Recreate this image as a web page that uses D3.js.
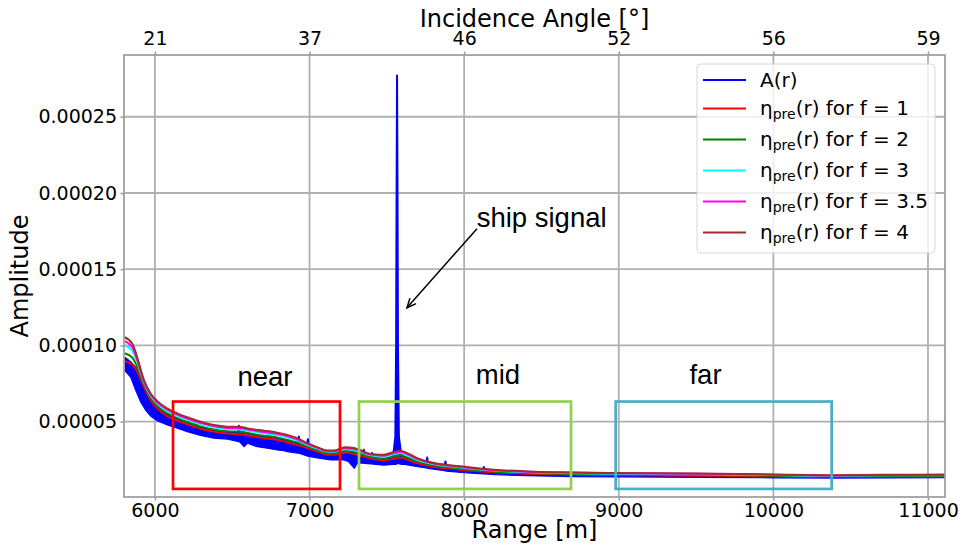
<!DOCTYPE html>
<html><head><meta charset="utf-8">
<script src="https://cdn.jsdelivr.net/npm/d3@7"></script>
<style>
html,body{margin:0;padding:0;background:#fff;}
svg{display:block;}
</style></head>
<body>
<svg id="chart" width="961" height="549"></svg>
<script>
// ---------- data (amplitude values in units of 1e-6) ----------
const xTicks = [6000, 7000, 8000, 9000, 10000, 11000];
const angleLabels = ["21", "37", "46", "52", "56", "59"];
const yTicks = [5e-5, 1e-4, 1.5e-4, 2e-4, 2.5e-4];

const rangeEta = [5804,5854,5875,5897,5929,5972,6015,6080,6145,6209,6295,6381,6468,6554,6619,6705,6791,6877,6920,6985,7050,7114,7157,7230,7286,7330,7373,7430,7480,7545,7588,7632,7696,7761,7976,8191,8407,8623,8946,9500,10000,10380,10700,11110];
const etaF1  = [89.6,87.4,84.8,80.4,72.8,64.1,58.7,53.7,50.7,48.3,45.4,43.5,42.2,41.8,40.7,39.2,38.1,35.9,34.8,32.7,30.4,28.3,28.3,29.6,28.9,27.6,26.5,25.2,24.6,25.7,26.5,25.0,22.9,21.3,18.5,16.8,15.9,15.3,15.0,14.6,14.2,13.8,14.0,14.1];
const etaF2  = [94.9,92.0,88.4,83.0,74.3,65.6,60.3,55.4,52.3,49.8,46.9,44.9,43.7,43.4,42.2,40.8,39.7,37.5,36.3,33.8,31.4,29.2,29.2,30.8,30.2,28.8,27.5,26.3,25.8,27.2,28.0,26.5,24.0,22.2,19.2,17.4,16.4,15.8,15.5,15.1,14.6,14.2,14.4,14.5];
const etaF3  = [100.1,96.5,92.0,85.5,75.7,67.0,61.9,57.0,53.9,51.4,48.5,46.4,45.2,44.9,43.7,42.5,41.2,39.1,37.7,34.8,32.3,30.2,30.2,32.0,31.4,30.1,28.4,27.4,27.1,28.6,29.4,27.9,25.0,23.0,20.0,17.9,16.9,16.3,15.9,15.5,15.0,14.5,14.8,14.9];
const etaF35 = [102.8,98.8,93.8,86.8,76.5,67.8,62.7,57.9,54.7,52.1,49.2,47.1,45.9,45.7,44.5,43.3,42.0,39.9,38.5,35.4,32.8,30.6,30.6,32.6,32.1,30.7,28.9,28.0,27.7,29.4,30.2,28.7,25.6,23.5,20.3,18.2,17.2,16.6,16.2,15.8,15.2,14.7,15.0,15.1];
const etaF4  = [105.4,101.1,95.6,88.1,77.2,68.5,63.5,58.7,55.5,52.9,50.0,47.8,46.7,46.5,45.2,44.1,42.8,40.7,39.2,35.9,33.3,31.1,31.1,33.2,32.7,31.3,29.4,28.5,28.3,30.1,30.9,29.4,26.1,23.9,20.7,18.5,17.4,16.8,16.4,16.0,15.4,14.9,15.2,15.3];

// A(r): lower and upper envelope of the noisy amplitude trace
const rangeA = [5804,5843,5875,5908,5940,5972,6015,6080,6145,6209,6295,6381,6470,6535,6543,6551,6577,6600,6619,6662,6727,6791,6834,6856,6925,6931,6937,6983,6989,6995,7050,7136,7222,7250,7290,7310,7345,7351,7357,7373,7400,7405,7410,7430,7480,7540,7555,7560,7563,7566,7569,7572,7578,7594,7615,7700,7755,7761,7767,7873,7879,7885,8000,8121,8127,8133,8200,8400,8700,9000,9500,10000,10400,11110];
const ampLow  = [83.7,79.3,70.7,63.0,57.6,53.7,50.7,47.8,45.7,43.5,41.0,39.2,38.6,37.0,36.9,36.5,33.6,36.0,35.0,33.6,32.6,31.5,31.0,30.4,29.3,29.3,29.2,27.5,27.4,27.3,26.3,24.9,24.9,24.0,19.5,23.0,22.8,22.8,22.7,22.5,22.3,22.3,22.2,22.0,21.5,22.0,22.0,22.0,22.3,22.5,22.5,22.5,22.5,22.0,22.0,20.5,19.6,19.5,19.4,17.8,17.7,17.6,16.5,15.8,15.8,15.8,15.3,14.6,14.0,13.8,13.5,13.2,13.0,13.3];
const ampHigh = [92.0,89.0,85.5,79.0,71.0,65.0,59.5,54.5,51.5,49.0,46.2,44.3,43.0,42.6,47.4,42.4,41.9,41.7,41.5,40.8,40.0,38.6,38.0,37.5,35.6,40.2,35.2,33.5,38.5,33.2,31.2,29.2,30.2,30.4,29.7,29.0,28.2,31.6,28.0,27.3,26.5,29.4,26.3,26.0,25.4,27.0,40,100,200,277,200,100,40,27.5,26.5,23.7,22.2,26.5,22.0,20.6,23.9,20.5,19.3,17.9,20.3,17.8,17.4,16.5,15.9,15.6,15.2,14.8,14.4,14.7];

const seriesNames = ["A(r)", "η_pre(r) for f = 1", "η_pre(r) for f = 2", "η_pre(r) for f = 3", "η_pre(r) for f = 3.5", "η_pre(r) for f = 4"];
const seriesColors = ["#0000ff", "#ff0000", "#008000", "#00ffff", "#ff00ff", "#a52a2a"];

// annotation regions (range [m], amplitude in 1e-6)
const regionNames  = ["near", "mid", "far"];
const regionStart  = [6117, 7320, 8980];
const regionEnd    = [7197, 8691, 10377];
const regionColors = ["#ff0000", "#92d050", "#4bacc6"];
const regionBottom = 5.9, regionTop = 63.2;
const regionLabelX = [6712, 8219, 9561];
const regionLabelY = [73.5, 74.8, 74.8];
const shipLabel = "ship signal";
const shipLabelPos = [8081, 178];
const shipArrowFrom = [8083, 176.6], shipArrowTo = [7630, 124.7];

// ---------- drawing ----------
const U = 1e-6;
const svg = d3.select("#chart");
const L = 124, R = 945, T = 55, B = 497;
const x = d3.scaleLinear().domain([5800, 11110]).range([L, R]);
const y = d3.scaleLinear().domain([0.6e-6, 290.5e-6]).range([B, T]);
const FONT = "'DejaVu Sans', sans-serif";
const ARIAL = "'Liberation Sans', Arial, sans-serif";
const gridColor = "#b0b0b0", spineColor = "#a0a0a0";

svg.append("rect").attr("width", 961).attr("height", 549).attr("fill", "#fff");

svg.append("defs").append("clipPath").attr("id", "clip")
  .append("rect").attr("x", L).attr("y", T).attr("width", R - L).attr("height", B - T);

// grid
const grid = svg.append("g");
grid.selectAll(".vg").data(xTicks).join("line")
  .attr("x1", d => x(d)).attr("x2", d => x(d)).attr("y1", T).attr("y2", B)
  .attr("stroke", gridColor).attr("stroke-width", 1.8);
grid.selectAll(".hg").data(yTicks).join("line")
  .attr("x1", L).attr("x2", R).attr("y1", d => y(d)).attr("y2", d => y(d))
  .attr("stroke", gridColor).attr("stroke-width", 1.8);

// axes
function styleAxis(g) {
  g.select(".domain").remove();
  g.selectAll(".tick line").attr("stroke", spineColor).attr("stroke-width", 1.6);
  g.selectAll(".tick text").attr("font-family", FONT).attr("font-size", 19).attr("fill", "#000");
}
svg.append("g").attr("transform", `translate(0,${B})`)
  .call(d3.axisBottom(x).tickValues(xTicks).tickFormat(d3.format("d")).tickSize(3.5).tickPadding(3.5))
  .call(styleAxis);
svg.append("g").attr("transform", `translate(0,${T})`)
  .call(d3.axisTop(x).tickValues(xTicks).tickFormat((d, i) => angleLabels[i]).tickSize(3.5).tickPadding(6.5))
  .call(styleAxis);
svg.append("g").attr("transform", `translate(${L},0)`)
  .call(d3.axisLeft(y).tickValues(yTicks).tickFormat(d3.format(".5f")).tickSize(3.5).tickPadding(3.5))
  .call(styleAxis);

// data
const plot = svg.append("g").attr("clip-path", "url(#clip)");
const aData = rangeA.map((r, i) => ({r, lo: ampLow[i] * U, hi: ampHigh[i] * U}));
plot.append("path").datum(aData)
  .attr("d", d3.area().x(d => x(d.r)).y0(d => y(d.lo)).y1(d => y(d.hi)))
  .attr("fill", "#0000ff");
plot.append("path").datum(aData)
  .attr("d", d3.line().x(d => x(d.r)).y(d => y(d.hi)))
  .attr("fill", "none").attr("stroke", "#0000ff").attr("stroke-width", 2).attr("stroke-linejoin", "round");
plot.append("path").datum(aData)
  .attr("d", d3.line().x(d => x(d.r)).y(d => y(d.lo)))
  .attr("fill", "none").attr("stroke", "#0000ff").attr("stroke-width", 1.2);

const etaSeries = [etaF1, etaF2, etaF3, etaF35, etaF4];
const etaLine = d3.line().curve(d3.curveMonotoneX).x(d => x(d[0])).y(d => y(d[1] * U));
etaSeries.forEach((vals, k) => {
  plot.append("path").datum(rangeEta.map((r, i) => [r, vals[i]]))
    .attr("d", etaLine).attr("fill", "none")
    .attr("stroke", seriesColors[k + 1]).attr("stroke-width", 2).attr("stroke-linejoin", "round");
});

// frame
svg.append("rect").attr("x", L).attr("y", T).attr("width", R - L).attr("height", B - T)
  .attr("fill", "none").attr("stroke", spineColor).attr("stroke-width", 1.8);

// axis titles
svg.append("text").attr("x", (L + R) / 2).attr("y", 538).attr("text-anchor", "middle")
  .attr("font-family", FONT).attr("font-size", 24).text("Range [m]");
svg.append("text").attr("x", (L + R) / 2).attr("y", 27).attr("text-anchor", "middle")
  .attr("font-family", FONT).attr("font-size", 24).text("Incidence Angle [°]");
svg.append("text").attr("transform", `translate(28,${(T + B) / 2}) rotate(-90)`).attr("text-anchor", "middle")
  .attr("font-family", FONT).attr("font-size", 24).text("Amplitude");

// legend
const lg = svg.append("g");
lg.append("rect").attr("x", 697).attr("y", 64).attr("width", 238).attr("height", 189)
  .attr("rx", 4).attr("fill", "#fff").attr("fill-opacity", 0.8)
  .attr("stroke", "#d6d6d6").attr("stroke-width", 1);
seriesNames.forEach((name, i) => {
  const ly = i === 0 ? 80 : 108.5 + (i - 1) * 31;
  lg.append("line").attr("x1", 703).attr("x2", 746).attr("y1", ly).attr("y2", ly)
    .attr("stroke", seriesColors[i]).attr("stroke-width", 2);
  const t = lg.append("text").attr("x", 760).attr("y", ly + (i === 0 ? 7 : 6.5))
    .attr("font-family", FONT).attr("font-size", 20).attr("fill", "#000");
  if (name.includes("_")) {
    const [head, rest] = name.split("_");
    const sub = rest.slice(0, 3), tail = rest.slice(3);
    t.append("tspan").text(head);
    t.append("tspan").attr("font-size", 14).attr("dy", 4).text(sub);
    t.append("tspan").attr("dy", -4).text(tail);
  } else {
    t.text(name);
  }
});

// annotation boxes
const ann = svg.append("g");
regionNames.forEach((n, i) => {
  ann.append("rect")
    .attr("x", x(regionStart[i])).attr("y", y(regionTop * U))
    .attr("width", x(regionEnd[i]) - x(regionStart[i]))
    .attr("height", y(regionBottom * U) - y(regionTop * U))
    .attr("fill", "none").attr("stroke", regionColors[i]).attr("stroke-width", 2.7);
  ann.append("text").attr("x", x(regionLabelX[i])).attr("y", y(regionLabelY[i] * U))
    .attr("text-anchor", "middle")
    .attr("font-family", ARIAL).attr("font-size", 27.5).text(n);
});
ann.append("text").attr("x", x(shipLabelPos[0])).attr("y", y(shipLabelPos[1] * U))
  .attr("font-family", ARIAL).attr("font-size", 27.5).text(shipLabel);

// arrow
const ax1 = x(shipArrowFrom[0]), ay1 = y(shipArrowFrom[1] * U);
const ax2 = x(shipArrowTo[0]), ay2 = y(shipArrowTo[1] * U);
ann.append("line").attr("x1", ax1).attr("y1", ay1).attr("x2", ax2).attr("y2", ay2)
  .attr("stroke", "#000").attr("stroke-width", 1.5);
const ang = Math.atan2(ay1 - ay2, ax1 - ax2), hl = 10, ha = 0.42;
ann.append("path")
  .attr("d", `M${ax2 + hl * Math.cos(ang + ha)},${ay2 + hl * Math.sin(ang + ha)} L${ax2},${ay2} L${ax2 + hl * Math.cos(ang - ha)},${ay2 + hl * Math.sin(ang - ha)}`)
  .attr("fill", "none").attr("stroke", "#000").attr("stroke-width", 1.5);
</script>
</body></html>
